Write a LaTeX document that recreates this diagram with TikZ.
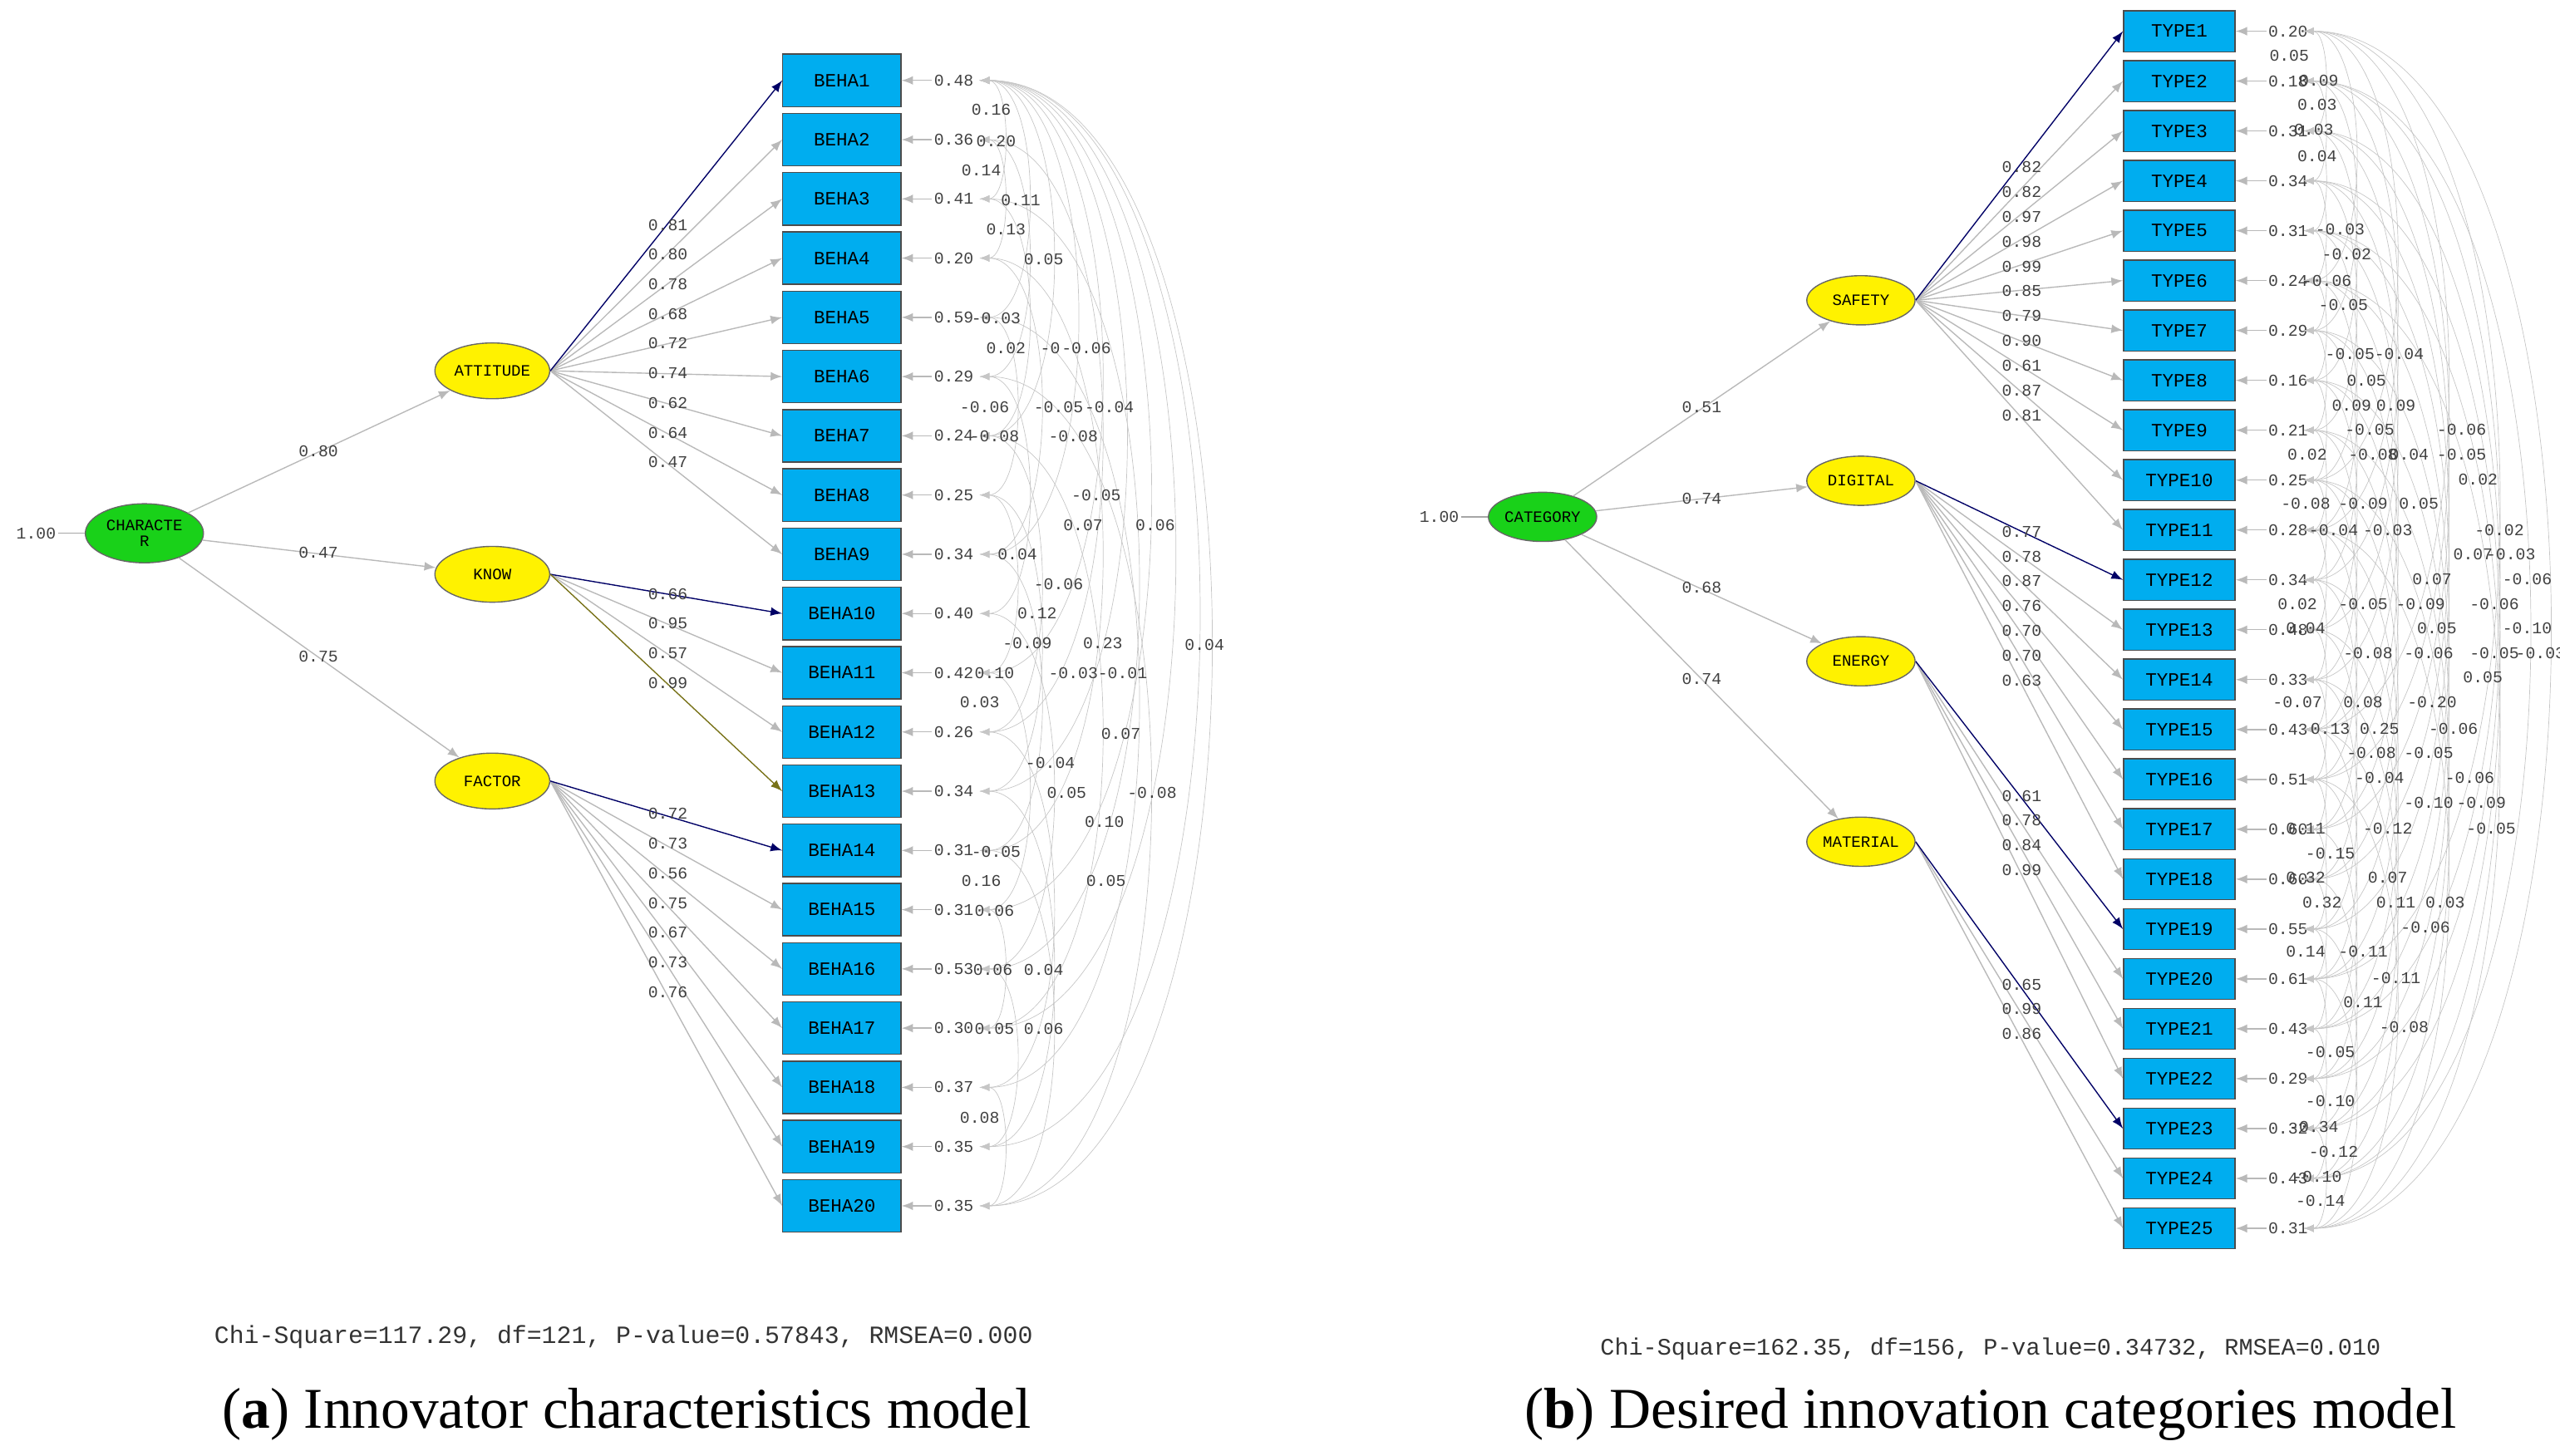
\documentclass[tikz,border=0pt]{standalone}
\usepackage{fontspec}
\setmainfont{Liberation Serif}
\newfontfamily\lis{Liberation Mono}
\usetikzlibrary{positioning,shapes,arrows}

\tikzset{
  latent/.style={draw=black!60, ellipse, fill=yellow, minimum width=1.4cm, minimum height=0.68cm, inner sep=0pt, font=\lis\fontsize{5.5}{6}\selectfont},
  obs/.style={draw=black!70, fill=cyan, minimum width=1.44cm, minimum height=0.64cm, inner sep=0pt, font=\lis\fontsize{6.5}{7}\selectfont},
  obsb/.style={obs, minimum width=1.36cm, minimum height=0.5cm},
  val/.style={font=\lis\fontsize{5.7}{6}\selectfont, inner sep=0.5pt, text=black!75},
  load/.style={gray!55, -latex, thin},
  hot/.style={blue!40!black, -latex, thin},
  cov/.style={gray!45, latex-latex, very thin, out=0, in=0, looseness=0.7},
}

\begin{document}
\begin{tikzpicture}[x=0.02cm, y=-0.02cm]
  \useasboundingbox (0,0) rectangle (1560,887);

  % left model
  \node[latent, fill=green!80!black!90, minimum width=1.44cm, minimum height=0.72cm, align=center, font=\lis\fontsize{5.5}{5.5}\selectfont] (char) at (88,325) {CHARACTE\\R};
  \node[val] (vchar) at (22,325) {1.00};
  \draw[gray!70] (vchar) -- (char);
  \node[latent] (att) at (300,226) {ATTITUDE};
  \node[latent] (know) at (300,350) {KNOW};
  \node[latent] (fac) at (300,476) {FACTOR};
  \draw[load] (char) -- (att);
  \draw[load] (char) -- (know);
  \draw[load] (char) -- (fac);
  \node[val] (g1) at (194,275) {0.80};
  \node[val] (g2) at (194,337) {0.47};
  \node[val] (g3) at (194,400) {0.75};

  \foreach \i/\e in {1/0.48,2/0.36,3/0.41,4/0.20,5/0.59,6/0.29,7/0.24,8/0.25,9/0.34,10/0.40,
                     11/0.42,12/0.26,13/0.34,14/0.31,15/0.31,16/0.53,17/0.30,18/0.37,19/0.35,20/0.35} {
    \pgfmathsetmacro\yy{49+(\i-1)*36.1}
    \node[obs] (b\i) at (513,\yy) {BEHA\i};
    \node[val, anchor=west] (eb\i) at (568,\yy) {\e};
    \draw[gray!55, -latex] (eb\i) -- (b\i);
    \coordinate (cb\i) at (597,\yy);
  }
  \foreach \i in {2,...,9} \draw[load] (att.east) -- (b\i.west);
  \draw[hot] (att.east) -- (b1.west);
  \foreach \i in {11,12} \draw[load] (know.east) -- (b\i.west);
  \draw[hot] (know.east) -- (b10.west);
  \draw[olive!80!black, -latex, thin] (know.east) -- (b13.west);
  \foreach \i in {15,...,20} \draw[load] (fac.east) -- (b\i.west);
  \draw[hot] (fac.east) -- (b14.west);

  \foreach \v [count=\k] in {0.81,0.80,0.78,0.68,0.72,0.74,0.62,0.64,0.47}
    \node[val] (la\k) at ({407},{137+(\k-1)*18.1}) {\v};
  \foreach \v [count=\k] in {0.66,0.95,0.57,0.99}
    \node[val] (lk\k) at ({407},{362+(\k-1)*18.1}) {\v};
  \foreach \v [count=\k] in {0.72,0.73,0.56,0.75,0.67,0.73,0.76}
    \node[val] (lf\k) at ({407},{496+(\k-1)*18.1}) {\v};

  \foreach \i/\j in {1/20,1/19,1/17,1/15,1/13,1/11,1/9,1/7,1/5,1/3,2/4,2/6,3/7,4/9,5/8,6/10,7/12,8/13,
                     9/14,10/16,11/15,12/18,13/19,14/20,3/16,5/18,6/20,7/17,2/12,4/14,15/17,16/19,18/20,8/11}
    \draw[cov] (cb\i) to (cb\j);

  \foreach \x/\y/\t [count=\k] in {604/67/0.16,607/86/0.20,598/104/0.14,622/122/0.11,613/140/0.13,636/158/0.05,
      607/194/-0.03,613/212/0.02,640/212/-0,662/212/-0.06,600/248/-0.06,645/248/-0.05,676/248/-0.04,606/266/-0.08,
      654/266/-0.08,668/302/-0.05,660/320/0.07,704/320/0.06,620/338/0.04,645/356/-0.06,632/374/0.12,626/392/-0.09,
      672/392/0.23,734/393/0.04,606/410/0.10,654/410/-0.03,684/410/-0.01,597/428/0.03,683/447/0.07,640/465/-0.04,
      650/483/0.05,702/483/-0.08,673/501/0.10,607/519/-0.05,598/537/0.16,674/537/0.05,606/555/0.06,605/591/0.06,
      636/591/0.04,606/627/0.05,636/627/0.06,597/681/0.08}
    \node[val] (cl\k) at (\x,\y) {\t};

  \node[font=\lis\fontsize{8.6}{10}\selectfont, text=black!80] (chia) at (380,815) {Chi-Square=117.29, df=121, P-value=0.57843, RMSEA=0.000};
  \node[font=\fontsize{20}{24}\selectfont] (capa) at (382,862) {(\textbf{a}) Innovator characteristics model};

  % right model
  \node[latent, fill=green!80!black!90, minimum width=1.32cm, minimum height=0.6cm] (cat) at (940,315) {CATEGORY};
  \node[val] (vcat) at (877,315) {1.00};
  \draw[gray!70] (vcat) -- (cat);
  \node[latent, minimum width=1.32cm, minimum height=0.6cm] (saf) at (1134,183) {SAFETY};
  \node[latent, minimum width=1.32cm, minimum height=0.6cm] (dig) at (1134,293) {DIGITAL};
  \node[latent, minimum width=1.32cm, minimum height=0.6cm] (ene) at (1134,403) {ENERGY};
  \node[latent, minimum width=1.32cm, minimum height=0.6cm] (mat) at (1134,513) {MATERIAL};
  \foreach \n in {saf,dig,ene,mat} \draw[load] (cat) -- (\n);
  \node[val] (h1) at (1037,248) {0.51};
  \node[val] (h2) at (1037,304) {0.74};
  \node[val] (h3) at (1037,358) {0.68};
  \node[val] (h4) at (1037,414) {0.74};

  \foreach \i/\e in {1/0.20,2/0.18,3/0.31,4/0.34,5/0.31,6/0.24,7/0.29,8/0.16,9/0.21,10/0.25,11/0.28,12/0.34,13/0.48,
                     14/0.33,15/0.43,16/0.51,17/0.60,18/0.60,19/0.55,20/0.61,21/0.43,22/0.29,23/0.32,24/0.43,25/0.31} {
    \pgfmathsetmacro\yy{19+(\i-1)*30.4}
    \node[obsb] (t\i) at (1328,\yy) {TYPE\i};
    \node[val, anchor=west] (et\i) at (1381,\yy) {\e};
    \draw[gray!55, -latex] (et\i) -- (t\i);
    \coordinate (ct\i) at (1404,\yy);
  }
  \foreach \i in {2,...,11} \draw[load] (saf.east) -- (t\i.west);
  \draw[hot] (saf.east) -- (t1.west);
  \foreach \i in {13,...,18} \draw[load] (dig.east) -- (t\i.west);
  \draw[hot] (dig.east) -- (t12.west);
  \foreach \i in {20,21,22} \draw[load] (ene.east) -- (t\i.west);
  \draw[hot] (ene.east) -- (t19.west);
  \foreach \i in {24,25} \draw[load] (mat.east) -- (t\i.west);
  \draw[hot] (mat.east) -- (t23.west);

  \foreach \v [count=\k] in {0.82,0.82,0.97,0.98,0.99,0.85,0.79,0.90,0.61,0.87,0.81}
    \node[val] (ls\k) at ({1232},{102+(\k-1)*15.1}) {\v};
  \foreach \v [count=\k] in {0.77,0.78,0.87,0.76,0.70,0.70,0.63}
    \node[val] (ld\k) at ({1232},{324+(\k-1)*15.1}) {\v};
  \foreach \v [count=\k] in {0.61,0.78,0.84,0.99}
    \node[val] (le\k) at ({1232},{485+(\k-1)*15.1}) {\v};
  \foreach \v [count=\k] in {0.65,0.99,0.86}
    \node[val] (lm\k) at ({1232},{600+(\k-1)*15.1}) {\v};

  \foreach \d in {2,5,9,14,19} {
    \foreach \i in {1,...,24} {
      \pgfmathtruncatemacro\j{\i+\d}
      \ifnum\j<26 \draw[cov] (ct\i) to (ct\j); \fi
    }
  }
  \draw[cov] (ct1) to (ct25);
  \draw[cov] (ct2) to (ct24);

  \foreach \x/\y/\t [count=\k] in {1395/34/0.05,1413/49/0.09,1412/64/0.03,1410/79/0.03,1412/95/0.04,1426/140/-0.03,
      1430/155/-0.02,1418/171/-0.06,1428/186/-0.05,1432/216/-0.05,1462/216/-0.04,1442/232/0.05,1433/247/0.09,
      1460/247/0.09,1500/262/-0.06,1444/262/-0.05,1406/277/0.02,1446/277/-0.08,1468/277/0.04,1500/277/-0.05,
      1510/292/0.02,1405/307/-0.08,1440/307/-0.09,1474/307/0.05,1422/323/-0.04,1455/323/-0.03,1523/323/-0.02,
      1507/338/0.07,1530/338/-0.03,1482/353/0.07,1540/353/-0.06,1400/368/0.02,1440/368/-0.05,1475/368/-0.09,
      1520/368/-0.06,1405/383/0.04,1485/383/0.05,1540/383/-0.10,1443/398/-0.08,1480/398/-0.06,1520/398/-0.05,
      1548/398/-0.03,1513/413/0.05,1400/428/-0.07,1440/428/0.08,1482/428/-0.20,1420/444/0.13,1450/444/0.25,
      1495/444/-0.06,1445/459/-0.08,1480/459/-0.05,1450/474/-0.04,1505/474/-0.06,1480/489/-0.10,1512/489/-0.09,
      1405/505/0.11,1455/505/-0.12,1518/505/-0.05,1420/520/-0.15,1405/535/0.32,1455/535/0.07,1415/550/0.32,
      1460/550/0.11,1490/550/0.03,1478/565/-0.06,1405/580/0.14,1440/580/-0.11,1460/596/-0.11,1440/611/0.11,
      1465/626/-0.08,1420/641/-0.05,1420/671/-0.10,1410/687/-0.34,1422/702/-0.12,1412/717/-0.10,1414/732/-0.14}
    \node[val] (cr\k) at (\x,\y) {\t};

  \node[font=\lis\fontsize{8.2}{10}\selectfont, text=black!80] (chib) at (1213,822) {Chi-Square=162.35, df=156, P-value=0.34732, RMSEA=0.010};
  \node[font=\fontsize{20}{24}\selectfont] (capb) at (1213,862) {(\textbf{b}) Desired innovation categories model};
\end{tikzpicture}
\end{document}
